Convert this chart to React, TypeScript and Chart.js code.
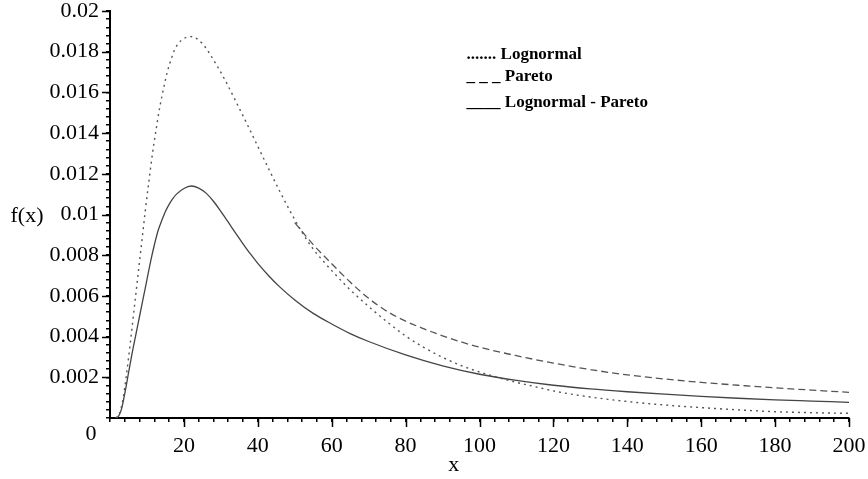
import React, { useEffect, useRef } from "react";
import { Chart, registerables } from "chart.js";

Chart.register(...registerables);

// ---- data ----
const lognormalX = [1.5, 2.5, 3.5, 4.5, 5.5, 6.5, 7.5, 8.5, 9.5, 10.5, 11.5, 12.5, 13.5, 14.5, 15.5, 16.5, 17.5, 18.5, 20, 22, 25, 28, 31, 34, 37, 40, 43, 46, 49, 52, 55, 58, 61, 65, 70, 75, 80, 85, 90, 95, 100, 105, 110, 115, 120, 130, 140, 150, 160, 170, 180, 190, 200];
const lognormalY = [0, 0.0002, 0.0009, 0.0022, 0.0037, 0.0053, 0.0069, 0.0085, 0.0101, 0.0116, 0.013, 0.0142, 0.0153, 0.0162, 0.017, 0.0176, 0.0181, 0.0184, 0.01865, 0.01874, 0.0184, 0.0176, 0.01665, 0.01558, 0.01448, 0.01335, 0.01222, 0.01112, 0.01008, 0.00912, 0.0083, 0.00765, 0.00705, 0.0063, 0.00548, 0.00472, 0.00403, 0.00346, 0.00298, 0.00258, 0.00226, 0.00199, 0.00175, 0.00154, 0.00133, 0.00103, 0.00081, 0.00064, 0.00051, 0.0004, 0.00031, 0.00026, 0.00023];

const paretoX = [50, 55, 60, 65, 70, 75, 80, 85, 90, 95, 100, 110, 120, 130, 140, 150, 160, 170, 180, 190, 200];
const paretoY = [0.0096, 0.00852, 0.00758, 0.00668, 0.00588, 0.00524, 0.00476, 0.00438, 0.00404, 0.00374, 0.00348, 0.00306, 0.0027, 0.00238, 0.00212, 0.00192, 0.00175, 0.00161, 0.00148, 0.00137, 0.00126];

const compositeX = [1.8, 2.5, 3.2, 4, 5, 6, 7, 8, 9, 10, 11, 12, 13, 14, 15, 16, 17, 18, 20, 22, 24, 26, 28, 30, 32, 34, 36, 38, 40, 43, 46, 50, 55, 60, 65, 70, 80, 90, 100, 110, 120, 130, 140, 150, 160, 170, 180, 190, 200];
const compositeY = [0, 0.00015, 0.0005, 0.0012, 0.0022, 0.0032, 0.0041, 0.005, 0.0059, 0.0068, 0.0077, 0.0085, 0.0092, 0.0097, 0.01015, 0.0105, 0.01078, 0.011, 0.01128, 0.0114, 0.0113, 0.01105, 0.01065, 0.01015, 0.00962, 0.00908, 0.00856, 0.00806, 0.0076, 0.00698, 0.00643, 0.0058, 0.00514, 0.00462, 0.00415, 0.00376, 0.0031, 0.00256, 0.00215, 0.00185, 0.00161, 0.00143, 0.00129, 0.00117, 0.00106, 0.00097, 0.00089, 0.00083, 0.00077];

const xMajorTicks = [20, 40, 60, 80, 100, 120, 140, 160, 180, 200];
const yMajorTicks = [0.002, 0.004, 0.006, 0.008, 0.01, 0.012, 0.014, 0.016, 0.018, 0.02];
const legendLabels = ["....... Lognormal", "_ _ _ Pareto", "____ Lognormal - Pareto"];
const yAxisTitle = "f(x)";
const xAxisTitle = "x";
const originLabel = "0";

const FONT = "'Liberation Serif', 'Times New Roman', serif";

function pts(xs: number[], ys: number[]) {
  return xs.map((x, i) => ({ x, y: ys[i] }));
}

const decorPlugin = {
  id: "decor",
  afterDraw(chart: any) {
    const ctx = chart.ctx;
    const xs = chart.scales.x;
    const ys = chart.scales.y;
    ctx.save();
    ctx.strokeStyle = "#000";
    ctx.lineWidth = 1.5;
    // major ticks (longer)
    for (const v of yMajorTicks) {
      const py = Math.round(ys.getPixelForValue(v)) + 0.5;
      ctx.beginPath();
      ctx.moveTo(xs.left - 8, py);
      ctx.lineTo(xs.left, py);
      ctx.stroke();
    }
    for (const v of xMajorTicks) {
      const px = Math.round(xs.getPixelForValue(v)) + 0.5;
      ctx.beginPath();
      ctx.moveTo(px, ys.bottom);
      ctx.lineTo(px, ys.bottom + 9);
      ctx.stroke();
    }
    ctx.fillStyle = "#000";
    ctx.font = `22px ${FONT}`;
    ctx.textAlign = "center";
    ctx.textBaseline = "middle";
    ctx.fillText(yAxisTitle, 27, ys.getPixelForValue(0.01) + 2);
    ctx.fillText(originLabel, xs.left - 19, ys.bottom + 16);
    ctx.fillText(xAxisTitle, xs.getPixelForValue(93), ys.bottom + 47);
    // legend
    ctx.font = `bold 17px ${FONT}`;
    ctx.textAlign = "left";
    ctx.textBaseline = "alphabetic";
    const baselines = [59, 81, 107];
    legendLabels.forEach((t, i) => {
      ctx.fillText(t, xs.getPixelForValue(96.5), baselines[i]);
    });
    ctx.restore();
  },
};

export default function App() {
  const ref = useRef<HTMLCanvasElement | null>(null);
  useEffect(() => {
    if (!ref.current) return;
    const chart = new Chart(ref.current, {
      type: "line",
      data: {
        datasets: [
          {
            label: "Lognormal",
            data: pts(lognormalX, lognormalY),
            borderColor: "#555",
            borderWidth: 1.4,
            borderDash: [2, 4],
            pointRadius: 0,
            cubicInterpolationMode: "monotone",
            fill: false,
          },
          {
            label: "Pareto",
            data: pts(paretoX, paretoY),
            borderColor: "#555",
            borderWidth: 1.3,
            borderDash: [7, 4],
            pointRadius: 0,
            cubicInterpolationMode: "monotone",
            fill: false,
          },
          {
            label: "Lognormal - Pareto",
            data: pts(compositeX, compositeY),
            borderColor: "#444",
            borderWidth: 1.3,
            pointRadius: 0,
            cubicInterpolationMode: "monotone",
            fill: false,
          },
        ],
      },
      options: {
        animation: false,
        responsive: false,
        layout: { padding: { left: 0, top: 11, right: 19, bottom: 0 } },
        plugins: { legend: { display: false }, tooltip: { enabled: false } },
        scales: {
          x: {
            type: "linear",
            min: 0,
            max: 200,
            afterFit: (s: any) => {
              s.height = 61;
              s.paddingLeft = 0;
              s.paddingRight = 0;
            },
            border: { display: true, color: "#000", width: 2 },
            grid: { drawOnChartArea: false, drawTicks: true, tickLength: 4, color: "#000", lineWidth: 1.5 },
            ticks: {
              stepSize: 4,
              autoSkip: false,
              maxRotation: 0,
              padding: 11,
              color: "#000",
              font: { family: FONT, size: 22 },
              callback: (v: any) => {
                const n = Math.round(Number(v));
                return n !== 0 && n % 20 === 0 ? String(n) : "";
              },
            },
          },
          y: {
            type: "linear",
            min: 0,
            max: 0.02,
            afterFit: (s: any) => {
              s.width = 110;
              s.paddingTop = 0;
              s.paddingBottom = 0;
            },
            border: { display: true, color: "#000", width: 2 },
            grid: { drawOnChartArea: false, drawTicks: true, tickLength: 4, color: "#000", lineWidth: 1.5 },
            ticks: {
              stepSize: 0.0004,
              autoSkip: false,
              padding: 7,
              color: "#000",
              font: { family: FONT, size: 22 },
              callback: (v: any) => {
                const k = Math.round(Number(v) / 0.0004);
                if (k === 0 || k % 5 !== 0) return "";
                return String(parseFloat(Number(v).toFixed(3)));
              },
            },
          },
        },
      },
      plugins: [decorPlugin],
    } as any);
    return () => chart.destroy();
  }, []);
  return (
    <div style={{ position: "fixed", left: 0, top: 0, width: 868, height: 479, background: "#fff" }}>
      <canvas ref={ref} width={868} height={479} style={{ display: "block" }} />
    </div>
  );
}
